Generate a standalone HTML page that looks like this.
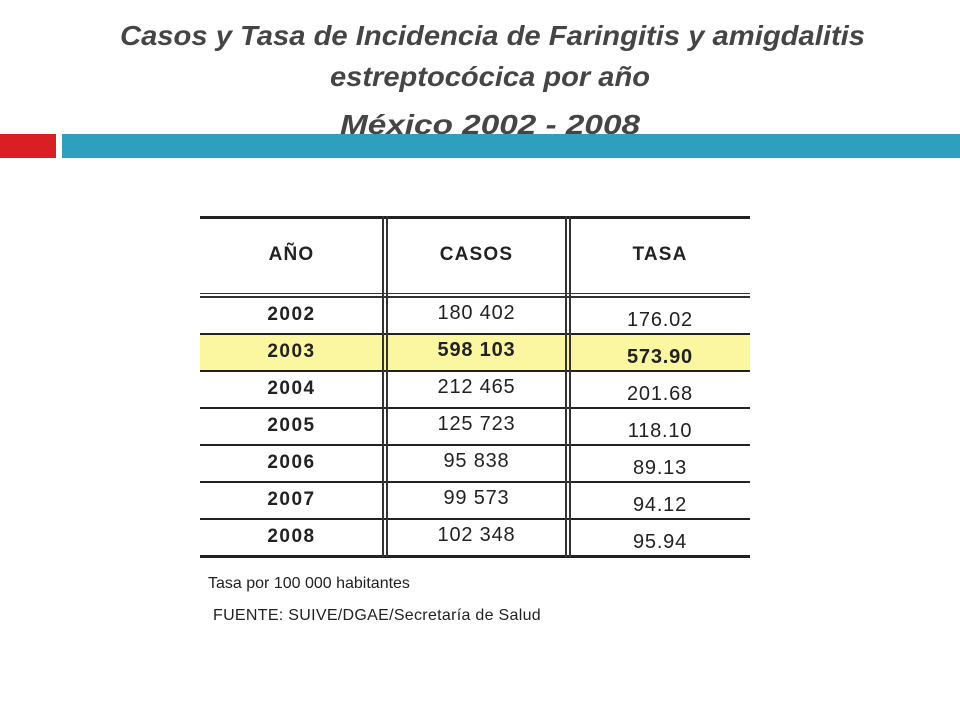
<!DOCTYPE html>
<html><head><meta charset="utf-8"><style>
body{margin:0;width:960px;height:720px;background:#fff;position:relative;overflow:hidden;font-family:"Liberation Sans",Arial,sans-serif}
.abs{position:absolute}
.cell{position:absolute;text-align:center;font-size:19px;letter-spacing:0.8px;color:#222}
.b{font-weight:bold}
</style></head><body>
<svg class="abs" style="left:0;top:0" width="960" height="140">
<g font-family="Liberation Sans, sans-serif" font-weight="bold" font-style="italic" fill="#454545" font-size="28">
<text x="120" y="45" textLength="745" lengthAdjust="spacingAndGlyphs">Casos y Tasa de Incidencia de Faringitis y amigdalitis</text>
<text x="330" y="86" textLength="320" lengthAdjust="spacingAndGlyphs">estreptocócica por año</text>
<text x="340" y="134" textLength="300" lengthAdjust="spacingAndGlyphs">México 2002 - 2008</text>
</g></svg>
<div class="abs" style="left:0;top:134px;width:56px;height:24px;background:#d91f26"></div>
<div class="abs" style="left:62px;top:134px;width:898px;height:24px;background:#2ea0bd"></div>
<div id="tbl"></div>
<div class="abs" style="left:208px;top:575px;font-size:16px;color:#222">Tasa por 100 000 habitantes</div>
<div class="abs" style="left:213px;top:607px;font-size:16px;color:#222;letter-spacing:0.3px">FUENTE: SUIVE/DGAE/Secretaría de Salud</div>
<script>
const years=["2002","2003","2004","2005","2006","2007","2008"];
const casos=["180 402","598 103","212 465","125 723","95 838","99 573","102 348"];
const tasa=["176.02","573.90","201.68","118.10","89.13","94.12","95.94"];
const highlight=[false,true,false,false,false,false,false];
const t=document.getElementById('tbl');
function div(css,txt,cls){const d=document.createElement('div');d.className=cls||'abs';d.style.cssText=css;if(txt!==undefined)d.textContent=txt;t.appendChild(d);return d;}
const L=200,R=750,top0=216,hb=297,rowH=37,n=years.length,bottom=hb+rowH*n;
const cols=[[200,383],[387,566],[570,750]];
years.forEach((y,i)=>{if(highlight[i]){const d=div(`left:${L}px;top:${hb+i*rowH}px;width:${R-L}px;height:${rowH}px;background:#fbf7a0`);

}});
let d=div(`left:${L}px;top:${top0}px;width:${R-L}px;height:3px;background:#222`);


d=div(`left:${L}px;top:${hb-4}px;width:${R-L}px;height:1px;background:#333`);


d=div(`left:${L}px;top:${hb-1}px;width:${R-L}px;height:2px;background:#333`);


for(let i=1;i<=n;i++){d=div(`left:${L}px;top:${hb+i*rowH-1}px;width:${R-L}px;height:${i==n?3:2}px;background:#222`);

}
[383,566].forEach(x=>{[x-1,x+3].forEach(xx=>{d=div(`left:${xx}px;top:${top0}px;width:1.5px;height:${bottom-top0+1}px;background:#333`);

});});
const hdr=["AÑO","CASOS","TASA"];
hdr.forEach((h,j)=>{d=div(`left:${cols[j][0]}px;width:${cols[j][1]-cols[j][0]}px;top:244px;font-size:19px;letter-spacing:1.2px`,h,'cell b');

});
years.forEach((y,i)=>{const ty=hb+i*rowH;const bold=highlight[i]?' b':'';
d=div(`left:${cols[0][0]}px;width:${cols[0][1]-cols[0][0]}px;top:${ty+7}px;font-size:19px;letter-spacing:1.5px`,y,'cell b');


d=div(`left:${cols[1][0]}px;width:${cols[1][1]-cols[1][0]}px;top:${ty+5}px;font-size:20px`,casos[i],'cell'+bold);


d=div(`left:${cols[2][0]}px;width:${cols[2][1]-cols[2][0]}px;top:${ty+12}px;font-size:20px`,tasa[i],'cell'+bold);

});
</script>
</body></html>
